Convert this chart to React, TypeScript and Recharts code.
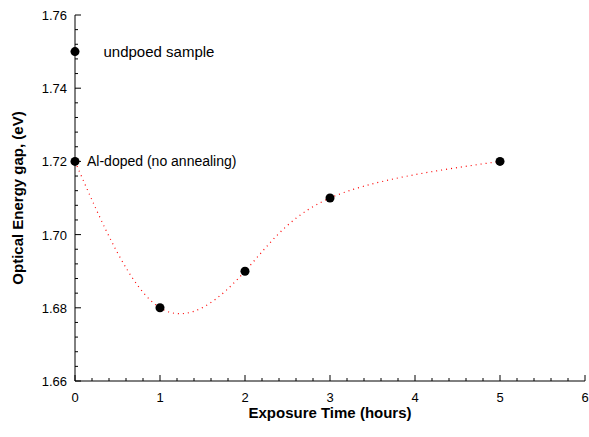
import { ComposedChart, Line, Scatter, XAxis, YAxis, LabelList, ReferenceDot } from "recharts";

// annealing series (Al-doped film, exposure time in hours)
const times = [0, 1, 2, 3, 5];
const gaps = [1.72, 1.68, 1.69, 1.71, 1.72];

// reference point for the undoped film
const undopedTimes = [0];
const undopedGaps = [1.75];
const undopedNames = ["undpoed sample"];

const xMajorTicks = [0, 1, 2, 3, 4, 5, 6];
const yMajorTicks = [1.66, 1.68, 1.7, 1.72, 1.74, 1.76];

const dopedRows = times.map((t, i) => ({ x: t, y: gaps[i] }));
const undopedRows = undopedTimes.map((t, i) => ({ x: t, y: undopedGaps[i], name: undopedNames[i] }));

// minor ticks between the majors (5 divisions each)
const subdivide = (major: number[]) => {
  const out: number[] = [];
  for (let i = 0; i < major.length - 1; i++) {
    const step = (major[i + 1] - major[i]) / 5;
    for (let k = 0; k < 5; k++) out.push(+(major[i] + k * step).toFixed(6));
  }
  out.push(major[major.length - 1]);
  return out;
};
const xTicks = subdivide(xMajorTicks);
const yTicks = subdivide(yMajorTicks);

const isMajor = (v: number, major: number[]) => major.some((m) => Math.abs(m - v) < 1e-6);

const XTick = (props: any) => {
  const { x, y, payload } = props;
  const major = isMajor(payload.value, xMajorTicks);
  return (
    <g>
      <line x1={x} x2={x} y1={y} y2={y - (major ? 6 : 3)} stroke="#000" />
      {major && (
        <text x={x} y={y + 21} textAnchor="middle" fontSize={13} fill="#000">
          {Math.round(payload.value)}
        </text>
      )}
    </g>
  );
};

const YTick = (props: any) => {
  const { x, y, payload } = props;
  const major = isMajor(payload.value, yMajorTicks);
  return (
    <g>
      <line x1={x} x2={x + (major ? 6 : 3)} y1={y} y2={y} stroke="#000" />
      {major && (
        <text x={x - 8} y={y + 5} textAnchor="end" fontSize={13} fill="#000">
          {payload.value.toFixed(2)}
        </text>
      )}
    </g>
  );
};

export default function App() {
  return (
    <div style={{ position: "absolute", left: 0, top: 0, width: 589, height: 437, background: "#fff" }}>
      <ComposedChart
        width={589}
        height={437}
        margin={{ top: 15, right: 4, bottom: 0, left: 0 }}
        style={{ fontFamily: "'Liberation Sans', Arial, sans-serif" }}
      >
        <XAxis
          type="number"
          dataKey="x"
          domain={[0, 6]}
          ticks={xTicks}
          interval={0}
          tickLine={false}
          tickSize={0}
          tickMargin={0}
          tick={XTick}
          height={56}
          axisLine={{ stroke: "#000" }}
          label={{
            value: "Exposure Time (hours)",
            position: "insideBottom",
            offset: 19,
            style: { fontSize: 15, fontWeight: "bold", fill: "#000" },
          }}
        />
        <YAxis
          type="number"
          domain={[1.66, 1.76]}
          ticks={yTicks}
          interval={0}
          tickLine={false}
          tickSize={0}
          tickMargin={0}
          tick={YTick}
          width={75}
          axisLine={{ stroke: "#000" }}
          label={{
            value: "Optical Energy gap, (eV)",
            angle: -90,
            position: "insideLeft",
            offset: 18,
            style: { fontSize: 15, fontWeight: "bold", fill: "#000", textAnchor: "middle" },
          }}
        />
        <Line
          data={dopedRows}
          dataKey="y"
          type="natural"
          stroke="#ff0000"
          strokeWidth={1.2}
          strokeDasharray="1 4"
          dot={false}
          activeDot={false}
          isAnimationActive={false}
        />
        <Scatter data={dopedRows} dataKey="y" fill="#000" isAnimationActive={false} />
        <Scatter data={undopedRows} dataKey="y" fill="#000" isAnimationActive={false}>
          <LabelList dataKey="name" position="right" offset={24} style={{ fontSize: 15, fill: "#000" }} />
        </Scatter>
        <ReferenceDot
          x={times[0]}
          y={gaps[0]}
          r={0}
          label={{ value: "Al-doped (no annealing)", position: "right", offset: 12, style: { fontSize: 14, fill: "#000" } }}
        />
      </ComposedChart>
    </div>
  );
}
